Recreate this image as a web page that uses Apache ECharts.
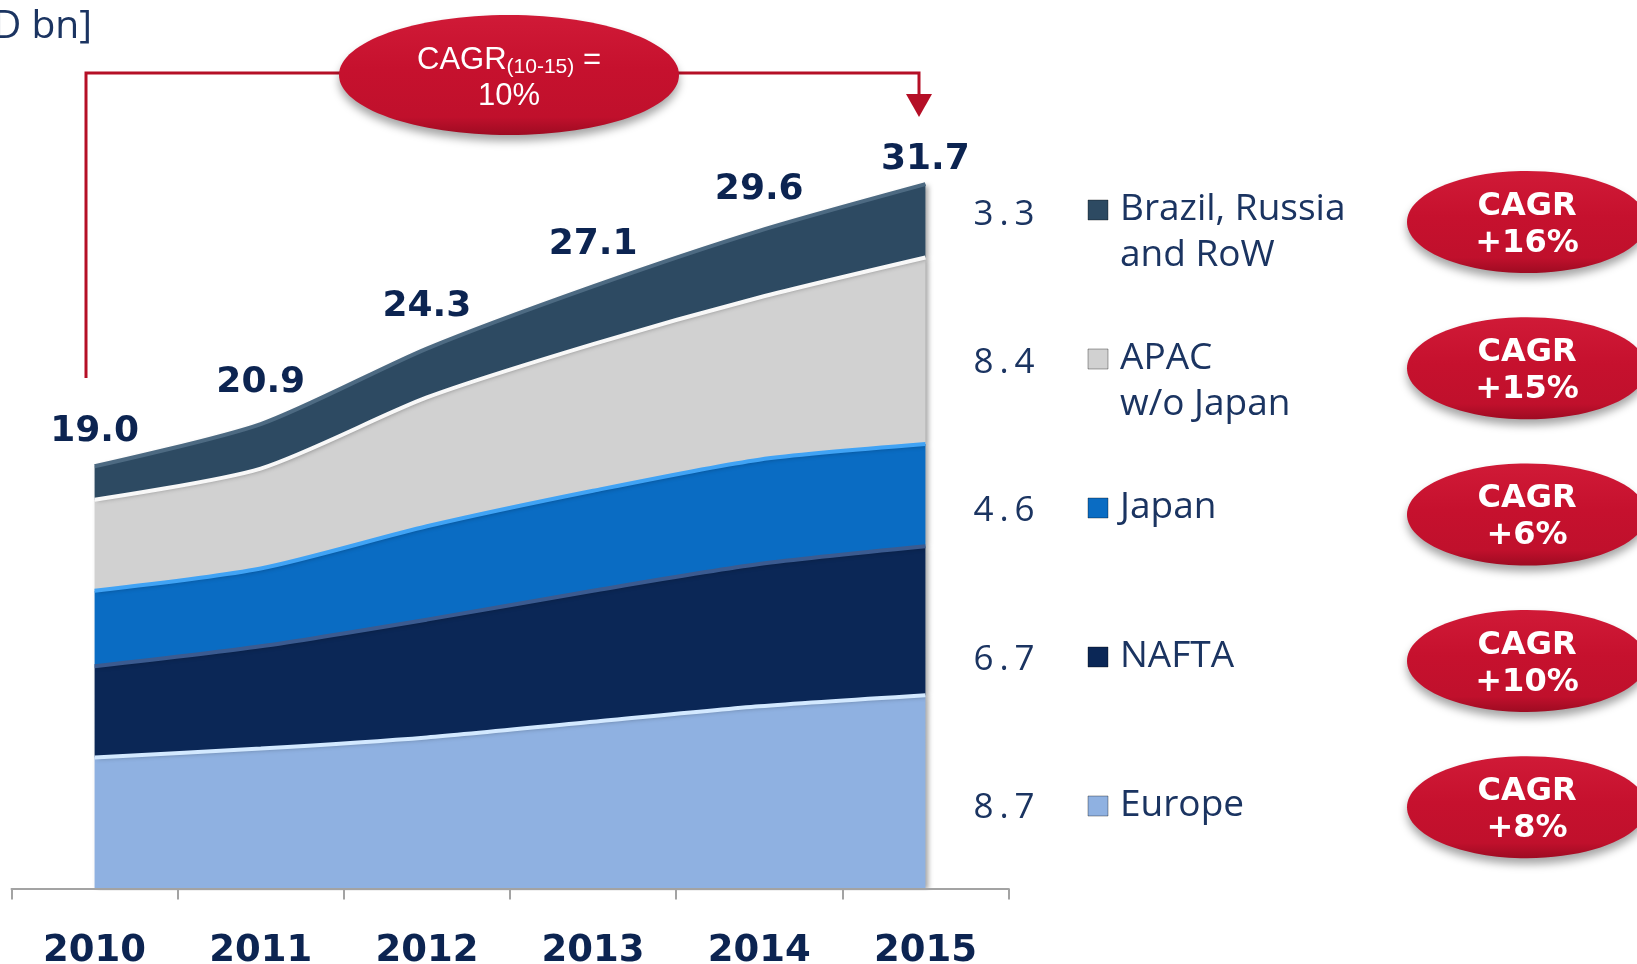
<!DOCTYPE html>
<html>
<head>
<meta charset="utf-8">
<script src="https://cdn.jsdelivr.net/npm/echarts@6/dist/echarts.min.js"></script>
<style>
  html, body { margin: 0; padding: 0; background: #fff; }
  #chart { width: 1637px; height: 964px; }
</style>
</head>
<body>
<div id="chart"></div>
<script>
var chartDom = document.getElementById('chart');
var myChart = echarts.init(chartDom);
var option;

// values, USD bn
let years = ['2010', '2011', '2012', '2013', '2014', '2015'];
let europe = [5.9, 6.3, 6.8, 7.5, 8.2, 8.7];
let nafta = [4.1, 4.6, 5.3, 5.9, 6.4, 6.7];
let japan = [3.4, 3.5, 4.2, 4.5, 4.7, 4.6];
let apac = [4.1, 4.5, 5.8, 6.6, 7.3, 8.4];
let brr = [1.5, 2.0, 2.2, 2.6, 3.0, 3.3];
let totals = [19.0, 20.9, 24.3, 27.1, 29.6, 31.7];

// legend rows, top to bottom
let legendNames = ['Brazil, Russia\nand RoW', 'APAC\nw/o Japan', 'Japan', 'NAFTA', 'Europe'];
let legendValues = [brr[5], apac[5], japan[5], nafta[5], europe[5]];
let cagrLabels = ['+16%', '+15%', '+6%', '+10%', '+8%'];
let totalCagr = '10%';
let unitText = '[USD bn]';

const navy = '#0c2451';
const textBlue = '#1b3461';

// fill, top highlight
const palette = {
  europe: ['#8fb1e1', '#d3e9ff'],
  nafta: ['#0b2756', '#3b5b90'],
  japan: ['#0a6cc3', '#40a3f5'],
  apac: ['#d1d1d1', '#f8f8f8'],
  brr: ['#2d4a62', '#4d6a82']
};
const legendColors = [palette.brr[0], palette.apac[0], palette.japan[0], palette.nafta[0], palette.europe[0]];

function layer(name, data, colors) {
  return {
    name: name,
    type: 'line',
    stack: 'total',
    smooth: 0.25,
    symbol: 'none',
    data: data,
    lineStyle: { color: colors[1], width: 4 },
    areaStyle: {
      color: colors[0],
      opacity: 1,
      shadowColor: 'rgba(0,0,0,0.35)',
      shadowBlur: 5,
      shadowOffsetX: 3,
      shadowOffsetY: 1
    },
    z: 2
  };
}

// graphic: annotations, legend rows, CAGR badges
let graphics = [];

graphics.push({
  type: 'text', x: 92, y: 27,
  style: {
    text: unitText, font: '39px "Open Sans", sans-serif', fill: textBlue,
    textAlign: 'right', textVerticalAlign: 'middle', align: 'right', verticalAlign: 'middle'
  }
});

// red bracket with arrow
graphics.push({
  type: 'polyline', shape: { points: [[86, 378], [86, 73], [345, 73]] },
  style: { stroke: '#b50f26', lineWidth: 3, fill: null }, z: 10
});
graphics.push({
  type: 'polyline', shape: { points: [[672, 73], [919, 73], [919, 98]] },
  style: { stroke: '#b50f26', lineWidth: 3, fill: null }, z: 10
});
graphics.push({
  type: 'polygon', shape: { points: [[906, 94], [932, 94], [919, 117]] },
  style: { fill: '#b50f26' }, z: 10
});

function badgeFill() {
  return {
    type: 'linear', x: 0, y: 0, x2: 0, y2: 1,
    colorStops: [
      { offset: 0, color: '#d01a37' },
      { offset: 0.45, color: '#c6112e' },
      { offset: 0.85, color: '#c0102c' },
      { offset: 1, color: '#9e0b22' }
    ]
  };
}

graphics.push({
  type: 'ellipse', shape: { cx: 509, cy: 75, rx: 170, ry: 60 },
  style: { fill: badgeFill(), shadowColor: 'rgba(0,0,0,0.35)', shadowBlur: 8, shadowOffsetY: 6 }, z: 11
});
graphics.push({
  type: 'text', x: 509, y: 78, z: 12,
  style: {
    text: '{a|CAGR}{s|(10-15)}{a| =}\n{a|' + totalCagr + '}',
    textAlign: 'center', textVerticalAlign: 'middle', align: 'center', verticalAlign: 'middle',
    rich: {
      a: { font: '31px "Liberation Sans Narrow", "Liberation Sans", sans-serif', fill: '#fff', lineHeight: 36 },
      s: { font: '21px "Liberation Sans Narrow", "Liberation Sans", sans-serif', fill: '#fff', lineHeight: 14, verticalAlign: 'bottom' }
    }
  }
});

for (let i = 0; i < legendNames.length; i++) {
  let rowY = 209 + i * 149;
  graphics.push({
    type: 'text', x: 1004, y: rowY + 6 - i * 0.8, z: 5,
    style: {
      text: legendValues[i].toFixed(1).split('').join('\u2009'),
      font: '35px "Open Sans", sans-serif', fill: textBlue,
      textAlign: 'center', textVerticalAlign: 'middle', align: 'center', verticalAlign: 'middle'
    }
  });
  graphics.push({
    type: 'rect', shape: { x: 1088, y: rowY - 9, width: 20, height: 20 },
    style: { fill: legendColors[i], stroke: 'rgba(0,0,0,0.35)', lineWidth: 1 }, z: 5
  });
  graphics.push({
    type: 'text', x: 1120, y: rowY - 23, z: 5,
    style: {
      text: legendNames[i], font: '37px "Open Sans", sans-serif', fill: textBlue,
      lineHeight: 46, textAlign: 'left', textVerticalAlign: 'top', align: 'left', verticalAlign: 'top'
    }
  });
  let cy = 222 + i * 146.3;
  graphics.push({
    type: 'ellipse', shape: { cx: 1527, cy: cy, rx: 120, ry: 51 },
    style: { fill: badgeFill(), shadowColor: 'rgba(0,0,0,0.35)', shadowBlur: 8, shadowOffsetY: 6 }, z: 5
  });
  graphics.push({
    type: 'text', x: 1527, y: cy + 3, z: 6,
    style: {
      text: 'CAGR\n' + cagrLabels[i],
      font: 'bold 32px "DejaVu Sans", Verdana, sans-serif', fill: '#fff', lineHeight: 37,
      textAlign: 'center', textVerticalAlign: 'middle', align: 'center', verticalAlign: 'middle'
    }
  });
}

option = {
  animation: false,
  grid: { left: 11.5, right: 628.5, top: 110.8, bottom: 75.5, outerBoundsMode: 'none', containLabel: false },
  xAxis: {
    type: 'category',
    data: years,
    boundaryGap: true,
    axisLine: { lineStyle: { color: '#a3a3a3', width: 2 } },
    axisTick: { show: true, length: 11, lineStyle: { color: '#a3a3a3', width: 2 } },
    axisLabel: {
      margin: 44,
      color: navy,
      fontFamily: '"DejaVu Sans", Verdana, sans-serif',
      fontWeight: 'bold',
      fontSize: 37
    },
    z: 3
  },
  yAxis: {
    type: 'value',
    min: 0,
    max: 35,
    show: false,
    splitLine: { show: false }
  },
  series: [
    layer('Europe', europe, palette.europe),
    layer('NAFTA', nafta, palette.nafta),
    layer('Japan', japan, palette.japan),
    layer('APAC w/o Japan', apac, palette.apac),
    layer('Brazil, Russia and RoW', brr, palette.brr),
    {
      name: 'Total',
      type: 'scatter',
      symbolSize: 1,
      itemStyle: { color: 'rgba(0,0,0,0)', opacity: 1 },
      data: totals.map(function (v, i) {
        if (i === 0) return { value: v, label: { distance: 16 } };
        if (i === totals.length - 1) return { value: v, label: { distance: 6 } };
        return v;
      }),
      label: {
        show: true,
        position: 'top',
        distance: 23,
        opacity: 1,
        formatter: function (p) { return Number(p.value).toFixed(1); },
        color: navy,
        fontFamily: '"DejaVu Sans", Verdana, sans-serif',
        fontWeight: 'bold',
        fontSize: 36
      },
      z: 4
    }
  ],
  graphic: graphics
};

option && myChart.setOption(option);
</script>
</body>
</html>
